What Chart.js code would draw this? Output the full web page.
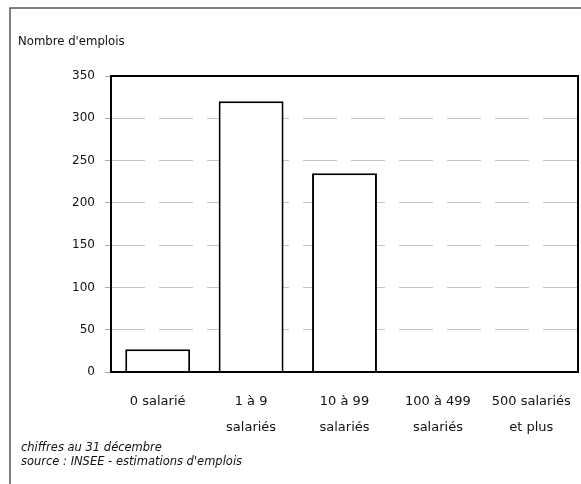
<!DOCTYPE html>
<html>
<head>
<meta charset="utf-8">
<script src="https://cdn.jsdelivr.net/npm/chart.js@4/dist/chart.umd.min.js"></script>
<style>
  html, body { margin: 0; padding: 0; background: #fff; }
  #wrap { width: 581px; height: 484px; position: relative; }
</style>
</head>
<body>
<div id="wrap"><canvas id="c" width="581" height="484"></canvas></div>
<script>
// ---- data ----
const categories = [
  ['0 salarié'],
  ['1 à 9', 'salariés'],
  ['10 à 99', 'salariés'],
  ['100 à 499', 'salariés'],
  ['500 salariés', 'et plus']
];
const emplois = [27, 320, 235, 0, 0];
const yTicks = [0, 50, 100, 150, 200, 250, 300, 350];
const titleText = "Nombre d'emplois";
const notes = ['chiffres au 31 décembre', "source : INSEE - estimations d'emplois"];

const FONT = '"DejaVu Sans", sans-serif';
const FONT_C = '"DejaVu Sans Condensed", "DejaVu Sans", sans-serif';

const decor = {
  id: 'decor',
  beforeDraw(chart) {
    const ctx = chart.ctx;
    ctx.save();
    ctx.fillStyle = '#fff';
    ctx.fillRect(0, 0, chart.width, chart.height);
    // outer frame (top and left visible)
    ctx.strokeStyle = '#555';
    ctx.lineWidth = 1.5;
    ctx.beginPath();
    ctx.moveTo(10, chart.height);
    ctx.lineTo(10, 8);
    ctx.lineTo(chart.width, 8);
    ctx.stroke();
    ctx.restore();
  },
  afterDraw(chart) {
    const ctx = chart.ctx;
    const a = chart.chartArea;
    ctx.save();
    // plot frame
    ctx.strokeStyle = '#000';
    ctx.lineWidth = 2;
    ctx.strokeRect(a.left, a.top, a.right - a.left, a.bottom - a.top);
    // title
    ctx.fillStyle = '#111';
    ctx.textBaseline = 'middle';
    ctx.textAlign = 'left';
    ctx.font = '13px ' + FONT_C;
    ctx.fillText(titleText, 18, 42);
    // notes
    ctx.font = 'italic 11.5px ' + FONT;
    notes.forEach((t, i) => ctx.fillText(t, 21, 448 + i * 14));
    ctx.restore();
  }
};

new Chart(document.getElementById('c'), {
  type: 'bar',
  data: {
    labels: categories,
    datasets: [{
      data: emplois,
      backgroundColor: '#fff',
      borderColor: '#000',
      borderWidth: 2,
      borderSkipped: 'bottom',
      barPercentage: 0.695,
      categoryPercentage: 1
    }]
  },
  options: {
    responsive: false,
    animation: false,
    layout: { padding: { left: 0, right: 3, top: 76, bottom: 0 } },
    plugins: { legend: { display: false }, tooltip: { enabled: false }, title: { display: false } },
    scales: {
      x: {
        grid: { display: false, drawTicks: false },
        border: { display: false },
        ticks: {
          color: '#111',
          font: { family: FONT, size: 13, lineHeight: 2.05 },
          padding: 16,
          maxRotation: 0,
          autoSkip: false
        },
        afterFit(s) { s.height = 112; s.paddingLeft = 0; s.paddingRight = 0; }
      },
      y: {
        min: 0,
        max: 350,
        afterBuildTicks(s) { s.ticks = yTicks.map(v => ({ value: v })); },
        grid: {
          color: '#c4c4c4',
          lineWidth: 1,
          tickLength: 6,
          tickColor: '#aaa'
        },
        border: { display: false, dash: [34, 14] },
        ticks: {
          color: '#111',
          font: { family: FONT, size: 12 },
          padding: 10
        },
        afterFit(s) { s.width = 111; s.paddingTop = 0; s.paddingBottom = 0; }
      }
    }
  },
  plugins: [decor]
});
</script>
</body>
</html>
